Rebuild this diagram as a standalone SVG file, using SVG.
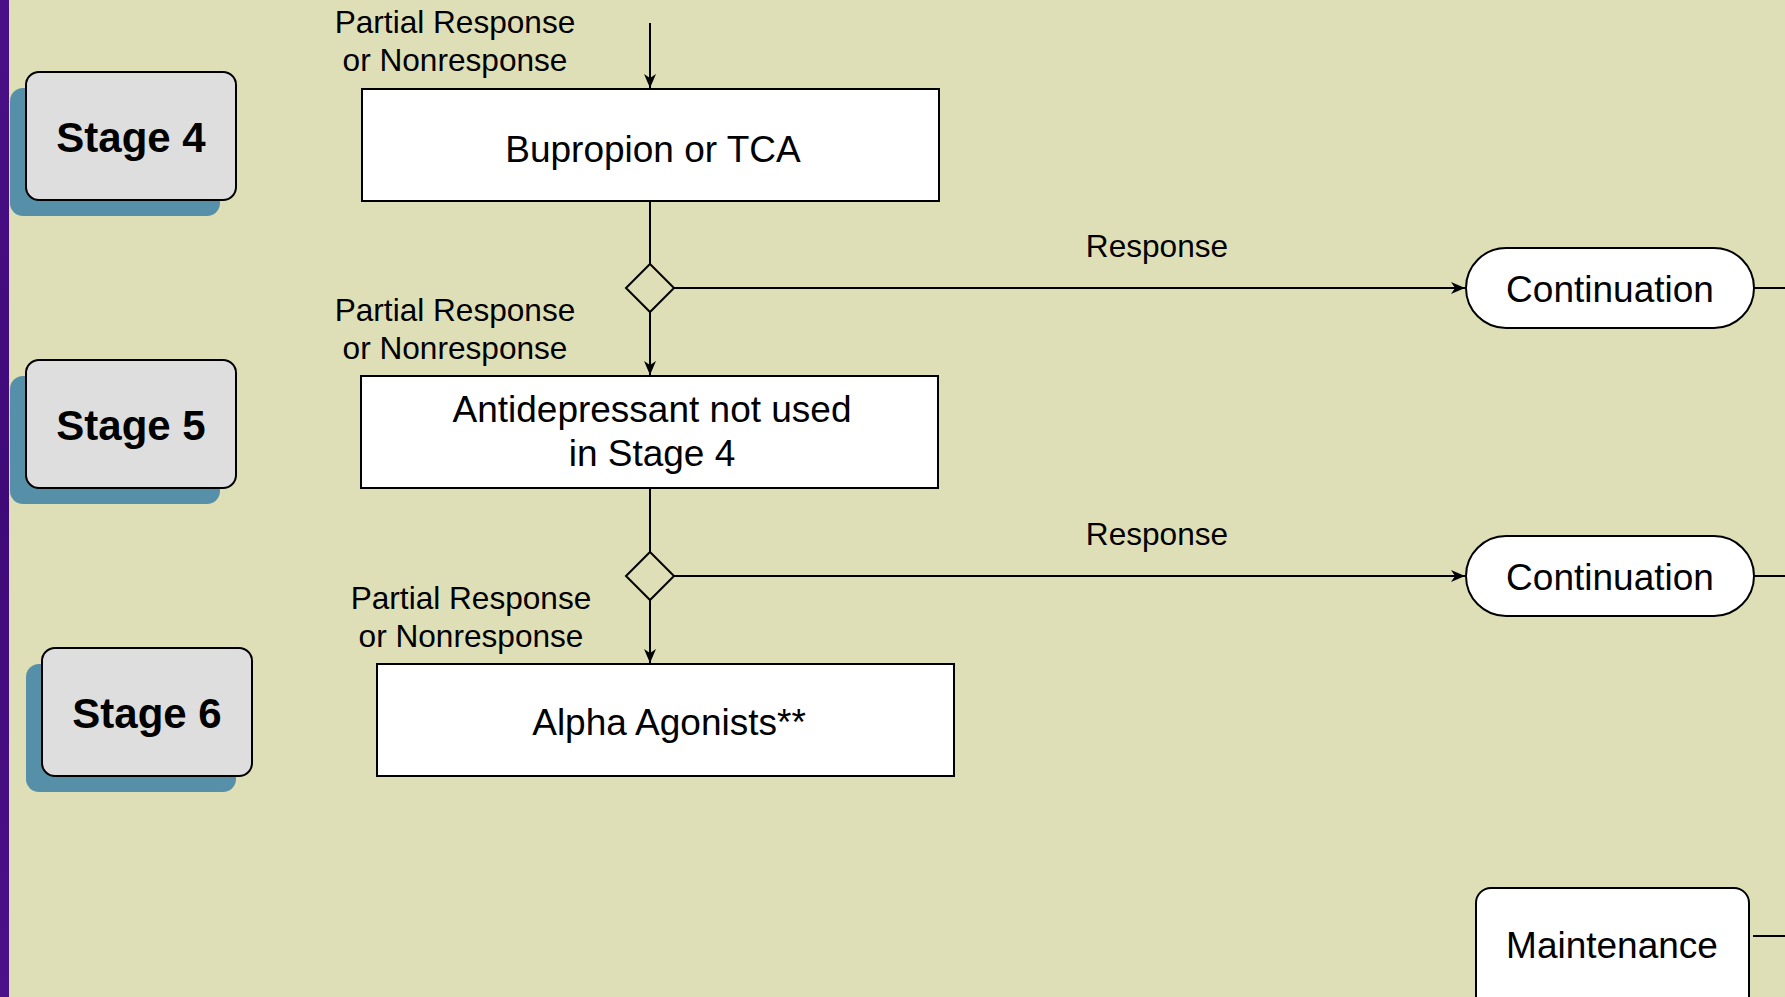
<svg xmlns="http://www.w3.org/2000/svg" width="1785" height="997" viewBox="0 0 1785 997">
<defs>
<marker id="arr" viewBox="0 0 14 12" markerWidth="14" markerHeight="12" refX="14" refY="6" orient="auto" markerUnits="userSpaceOnUse">
<path d="M0,0 L14,6 L0,12 L4,6 z" fill="#000"/>
</marker>
<linearGradient id="purp" x1="0" y1="0" x2="0" y2="1">
<stop offset="0" stop-color="#4a0f86"/>
<stop offset="0.5" stop-color="#3f0a78"/>
<stop offset="1" stop-color="#4b1188"/>
</linearGradient>
</defs>
<style>
.bg{fill:#dfdfb7}
.shadow{fill:#5590a8}
.stage{fill:#dedede;stroke:#000;stroke-width:2}
.stxt{font-family:"Liberation Sans",Arial,sans-serif;font-weight:bold;font-size:42px;fill:#000;text-anchor:middle}
.box{fill:#fff;stroke:#000;stroke-width:2}
.btxt{font-family:"Liberation Sans",Arial,sans-serif;font-size:37px;fill:#000;text-anchor:middle}
.lbl{font-family:"Liberation Sans",Arial,sans-serif;font-size:31.6px;fill:#000;text-anchor:middle}
.ln{fill:none;stroke:#000;stroke-width:2}
.dia{fill:none;stroke:#000;stroke-width:2}
</style>
<rect class="bg" x="0" y="0" width="1785" height="997"/>
<rect x="0" y="0" width="9" height="997" fill="url(#purp)"/>

<g id="stage4">
<rect class="shadow" x="10" y="88" width="210" height="128" rx="13"/>
<rect class="stage" x="26" y="72" width="210" height="128" rx="13"/>
<text class="stxt" x="131" y="152">Stage 4</text>
</g>
<g id="stage5">
<rect class="shadow" x="10" y="376" width="210" height="128" rx="13"/>
<rect class="stage" x="26" y="360" width="210" height="128" rx="13"/>
<text class="stxt" x="131" y="440">Stage 5</text>
</g>
<g id="stage6">
<rect class="shadow" x="26" y="664" width="210" height="128" rx="13"/>
<rect class="stage" x="42" y="648" width="210" height="128" rx="13"/>
<text class="stxt" x="147" y="728">Stage 6</text>
</g>

<g id="connectors">
<line class="ln" x1="650" y1="23" x2="650" y2="88" marker-end="url(#arr)"/>
<line class="ln" x1="650" y1="201" x2="650" y2="264"/>
<line class="ln" x1="650" y1="312" x2="650" y2="375" marker-end="url(#arr)"/>
<line class="ln" x1="674" y1="288" x2="1465" y2="288" marker-end="url(#arr)"/>
<line class="ln" x1="1754" y1="288" x2="1785" y2="288"/>
<line class="ln" x1="650" y1="488" x2="650" y2="552"/>
<line class="ln" x1="650" y1="600" x2="650" y2="663" marker-end="url(#arr)"/>
<line class="ln" x1="674" y1="576" x2="1465" y2="576" marker-end="url(#arr)"/>
<line class="ln" x1="1754" y1="576" x2="1785" y2="576"/>
<line class="ln" x1="1753" y1="936" x2="1785" y2="936"/>
<text class="lbl" x="455" y="33">Partial Response</text>
<text class="lbl" x="455" y="71">or Nonresponse</text>
<text class="lbl" x="455" y="321">Partial Response</text>
<text class="lbl" x="455" y="359">or Nonresponse</text>
<text class="lbl" x="471" y="609">Partial Response</text>
<text class="lbl" x="471" y="647">or Nonresponse</text>
<text class="lbl" x="1157" y="257">Response</text>
<text class="lbl" x="1157" y="545">Response</text>
</g>

<g id="decision1">
<polygon class="dia" points="650,264 674,288 650,312 626,288"/>
</g>
<g id="decision2">
<polygon class="dia" points="650,552 674,576 650,600 626,576"/>
</g>

<g id="bupropion">
<rect class="box" x="362" y="89" width="577" height="112"/>
<text class="btxt" x="653" y="162">Bupropion or TCA</text>
</g>
<g id="antidepressant">
<rect class="box" x="361" y="376" width="577" height="112"/>
<text class="btxt" x="652" y="422">Antidepressant not used</text>
<text class="btxt" x="652" y="466">in Stage 4</text>
</g>
<g id="alpha">
<rect class="box" x="377" y="664" width="577" height="112"/>
<text class="btxt" x="669" y="735">Alpha Agonists**</text>
</g>
<g id="continuation1">
<rect class="box" x="1466" y="248" width="288" height="80" rx="40"/>
<text class="btxt" x="1610" y="302">Continuation</text>
</g>
<g id="continuation2">
<rect class="box" x="1466" y="536" width="288" height="80" rx="40"/>
<text class="btxt" x="1610" y="590">Continuation</text>
</g>
<g id="maintenance">
<rect class="box" x="1476" y="888" width="273" height="150" rx="15"/>
<text class="btxt" x="1612" y="958">Maintenance</text>
</g>
</svg>
